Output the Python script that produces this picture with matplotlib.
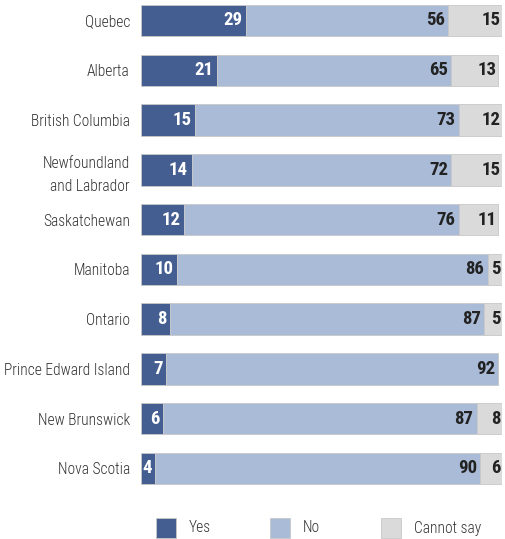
import numpy as np
import matplotlib.pyplot as plt
from matplotlib import font_manager
from matplotlib.patches import Rectangle

provinces = ["Quebec", "Alberta", "British Columbia", "Newfoundland\nand Labrador",
             "Saskatchewan", "Manitoba", "Ontario", "Prince Edward Island",
             "New Brunswick", "Nova Scotia"]
yes = [29, 21, 15, 14, 12, 10, 8, 7, 6, 4]
no = [56, 65, 73, 72, 76, 86, 87, 92, 87, 90]
cannot = [15, 13, 12, 15, 11, 5, 5, 0, 8, 6]
legend_labels = ["Yes", "No", "Cannot say"]

col_yes = "#455e91"
col_no = "#aabbd7"
col_cs = "#dadada"

# look for a narrow face, the reference uses a condensed font
fonts = font_manager.fontManager.ttflist
names = set(f.name for f in fonts)
stretch = "normal"
fam = "DejaVu Sans"
for cand in ["Roboto Condensed", "Open Sans Condensed", "Liberation Sans Narrow",
             "DejaVu Sans Condensed"]:
    if cand in names:
        fam = cand
        break
else:
    cond = [f for f in fonts if f.name == "DejaVu Sans" and str(f.stretch) in
            ("condensed", "semi-condensed", "500", "600", "700")]
    if cond:
        stretch = "condensed"
narrow = fam != "DejaVu Sans" or stretch == "condensed"
plt.rcParams['font.family'] = [fam, "DejaVu Sans"]
plt.rcParams['font.stretch'] = stretch

lab_fs = 11.2 if narrow else 8.6
num_fs = 13.5 if narrow else 11

W, H = 506, 539
fig = plt.figure(figsize=(W/100, H/100), dpi=100)
# rows 0..9 centred from y=20.5 to y=468.5 px
step = (468.5 - 20.5) / 9
top = 20.5 - step/2
bot = 468.5 + step/2
ax = fig.add_axes([141/W, 1-bot/H, 361/W, (bot-top)/H])

n = len(provinces)
y = np.arange(n)
h = 0.63
yes = np.array(yes); no = np.array(no); cannot = np.array(cannot)
ax.barh(y, yes, height=h, color=col_yes, edgecolor="#c8c8c8", linewidth=0.6)
ax.barh(y, no, left=yes, height=h, color=col_no, edgecolor="#c8c8c8", linewidth=0.6)
ax.barh(y, cannot, left=yes+no, height=h, color=col_cs, edgecolor="#c8c8c8", linewidth=0.6)

for i in range(n):
    ax.text(yes[i]-1.0, y[i], str(yes[i]), color="white", fontsize=num_fs, fontweight="bold",
            ha="right", va="center")
    ax.text(yes[i]+no[i]-0.9, y[i], str(no[i]), color="#222222", fontsize=num_fs,
            fontweight="bold", ha="right", va="center")
    if cannot[i] > 0:
        ax.text(min(yes[i]+no[i]+cannot[i], 100)-0.5, y[i], str(cannot[i]), color="#222222",
                fontsize=num_fs, fontweight="bold", ha="right", va="center")

ax.set_xlim(0, 100)
ax.set_ylim(n-0.5, -0.5)
ax.set_yticks(y)
ax.set_yticklabels(provinces, fontsize=lab_fs, color="#333333", linespacing=1.6,
                   fontweight="light")
ax.tick_params(axis="y", length=0, pad=8)
ax.set_xticks([])
for s in ax.spines.values():
    s.set_visible(False)

# legend
leg_y = 1-528/H
items = [(156, 189), (270, 303), (381, 414)]
for (sx, tx), lab, c in zip(items, legend_labels, [col_yes, col_no, col_cs]):
    fig.patches.append(Rectangle((sx/W, leg_y-10/H), 20/W, 20/H,
                                 transform=fig.transFigure, facecolor=c,
                                 edgecolor="#c8c8c8", linewidth=0.6))
    fig.text(tx/W, leg_y, lab, fontsize=lab_fs, color="#333333", va="center", ha="left",
             fontweight="light")

fig.savefig("out.png", dpi=100)
